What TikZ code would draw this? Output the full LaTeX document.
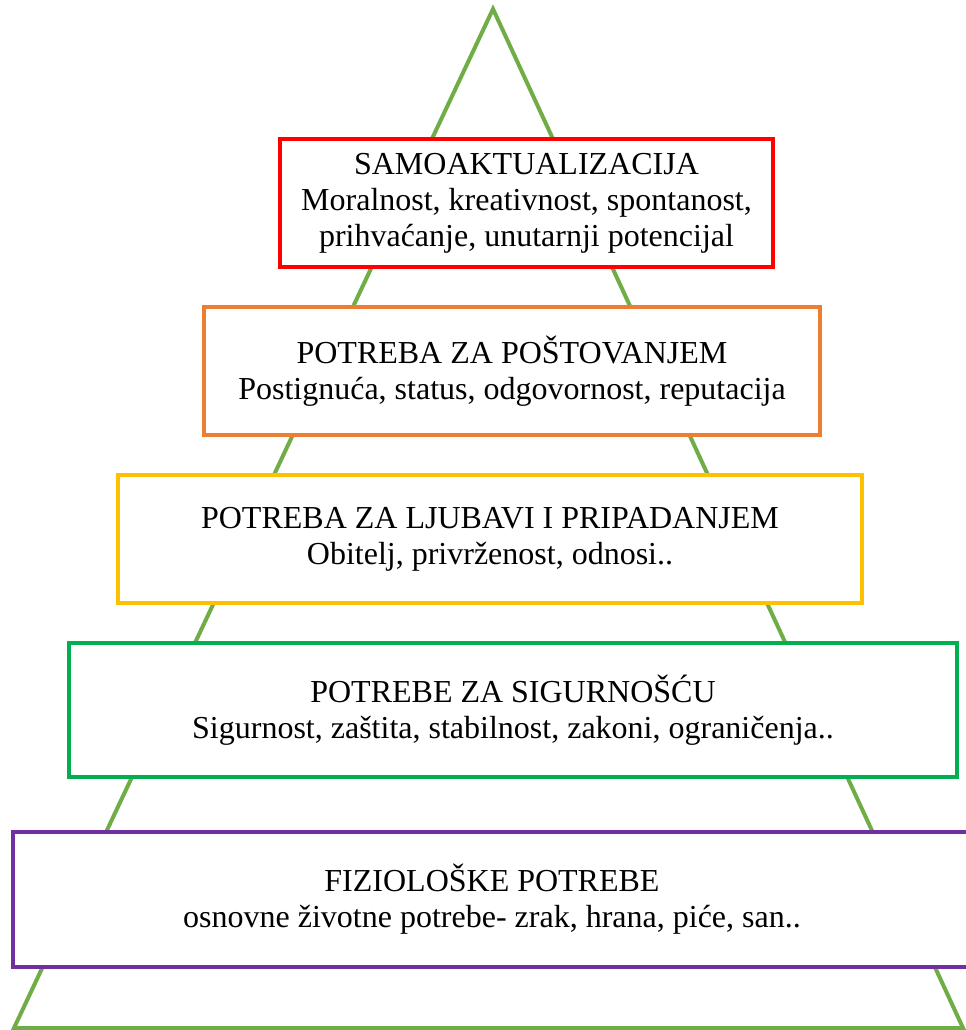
\documentclass[tikz,border=0pt]{standalone}
\usepackage{fontspec}
\setmainfont{Liberation Serif}
\definecolor{pyramid}{HTML}{70AD47}
\definecolor{selfred}{HTML}{FF0000}
\definecolor{esteem}{HTML}{ED7D31}
\definecolor{love}{HTML}{FFC000}
\definecolor{safety}{HTML}{00B050}
\definecolor{physio}{HTML}{7030A0}
\begin{document}
\begin{tikzpicture}[x=0.75pt,y=-0.75pt,line join=miter,
    tier/.style={draw=#1,line width=3pt,fill=white,inner sep=0pt,align=center,font=\fontsize{24}{27}\selectfont}]
    \useasboundingbox(0,0)rectangle(965,1030);
    \path(493,9)coordinate(T)(14,1028)coordinate(L)(963,1028)coordinate(R);
    \draw[pyramid,line width=3pt](T)--(L)--(R)--cycle;
    \foreach \n/\c/\x/\y/\w/\h/\t in{samo/selfred/526.5/203/493/128/{SAMOAKTUALIZACIJA\\Moralnost, kreativnost, spontanost,\\prihvaćanje, unutarnji potencijal},
      postovanje/esteem/512/371/616/128/{POTREBA ZA POŠTOVANJEM\\Postignuća, status, odgovornost, reputacija},
      ljubav/love/490/539/744/128/{POTREBA ZA LJUBAVI I PRIPADANJEM\\Obitelj, privrženost, odnosi..},
      sigurnost/safety/513/710/888/134/{POTREBE ZA SIGURNOŠĆU\\Sigurnost, zaštita, stabilnost, zakoni, ograničenja..},
      fiziologija/physio/492/899.5/958/135/{FIZIOLOŠKE POTREBE\\osnovne životne potrebe- zrak, hrana, piće, san..}}
      \node[tier=\c,minimum width=\w*0.75pt,minimum height=\h*0.75pt](\n)at(\x,\y){\t};
\end{tikzpicture}
\end{document}
